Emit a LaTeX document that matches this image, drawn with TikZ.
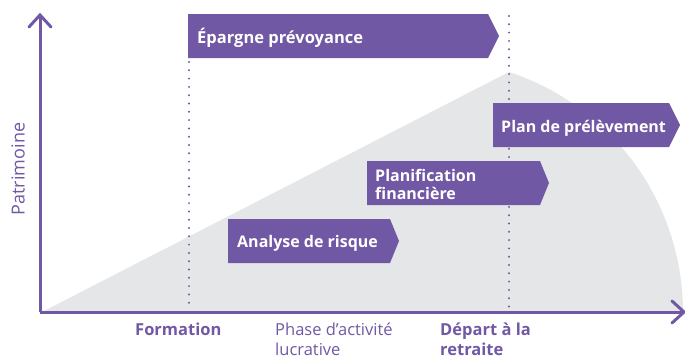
\documentclass[tikz,border=0pt]{standalone}
\usepackage{fontspec}
\setmainfont{Open Sans}
\definecolor{purp}{HTML}{7158A5}
\definecolor{grayarea}{HTML}{E5E6E8}
\tikzset{
  boxshape/.style={fill=purp},
  boxtext/.style={text=white, font=\fontsize{16}{18}\selectfont\bfseries, inner sep=0pt, anchor=base west, align=left},
  axislabel/.style={text=purp, font=\fontsize{16}{20}\selectfont, inner sep=0pt, anchor=base west, align=left},
  axisline/.style={draw=purp, line width=3pt},
  dotline/.style={draw=purp, line width=2.2pt, line cap=round, dash pattern=on 0pt off 8.3pt},
}
\begin{document}
\begin{tikzpicture}[x=1pt, y=-1pt]
\useasboundingbox (0,0) rectangle (685,359);
% gray area
\fill[grayarea] (42,312) -- (509,72) arc[start angle=-71.8, end angle=0, radius=253] -- cycle;
% dotted lines
\coordinate (f1) at (189,62);
\coordinate (f2) at (189,310);
\coordinate (d1) at (509,16);
\coordinate (d2) at (509,310);
\draw[dotline] (f1) -- (f2);
\draw[dotline] (d1) -- (d2);
% boxes
\fill[boxshape] (188,14) -- (488,14) -- (499,36) -- (488,58) -- (188,58) -- cycle;
\node[boxtext, font=\fontsize{16.5}{18}\selectfont\bfseries] (epargne) at (197,43) {Épargne prévoyance};
\fill[boxshape] (493,103) -- (669,103) -- (680,125) -- (669,147) -- (493,147) -- cycle;
\node[boxtext] (plan) at (501,132) {Plan de prélèvement};
\fill[boxshape] (367,161) -- (540,161) -- (549,183) -- (540,205) -- (367,205) -- cycle;
\node[boxtext] (planif) at (375,199) {Planification\\financière};
\fill[boxshape] (228,219) -- (390,219) -- (399,241) -- (390,263) -- (228,263) -- cycle;
\node[boxtext] (analyse) at (237,247) {Analyse de risque};
% axes
\coordinate (o) at (40,312);
\coordinate (ytop) at (40,15);
\coordinate (xend) at (684,312);
\draw[axisline] (o) -- (ytop);
\draw[axisline] (o) -- (xend);
\draw[axisline, line cap=round, line join=miter] (29,27) -- (ytop) -- (51,27);
\draw[axisline, line cap=round, line join=miter] (672,301) -- (xend) -- (672,323);
% labels
\node[text=purp, font=\fontsize{18}{20}\selectfont, rotate=90, inner sep=0pt] (patrimoine) at (18,169) {Patrimoine};
\node[axislabel, font=\fontsize{16.5}{20}\selectfont\bfseries] (formation) at (135,335) {Formation};
\node[axislabel, font=\fontsize{16.5}{20}\selectfont] (phase) at (275,355) {Phase d’activité\\lucrative};
\node[axislabel, font=\fontsize{16.5}{20}\selectfont\bfseries] (depart) at (440,355) {Départ à la\\retraite};
\end{tikzpicture}
\end{document}
